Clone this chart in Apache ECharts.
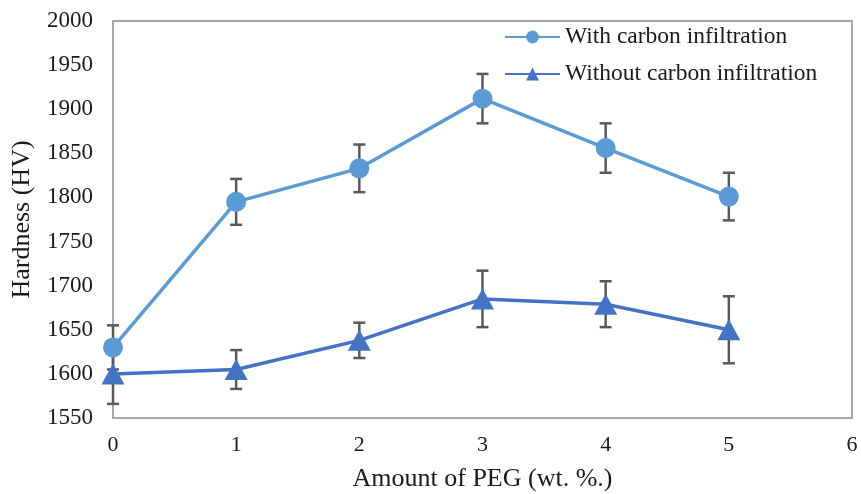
<!DOCTYPE html>
<html>
<head>
<meta charset="utf-8">
<script src="https://cdn.jsdelivr.net/npm/echarts@6/dist/echarts.min.js"></script>
<style>
html, body { margin: 0; padding: 0; background: #fff; }
#chart { width: 861px; height: 494px; }
</style>
</head>
<body>
<div id="chart"></div>
<script>
var pegAmount = [0, 1, 2, 3, 4, 5];
var withCarbon = [1630, 1795, 1833, 1912, 1856, 1801];
var withCarbonErr = [25, 26, 27, 28, 28, 27];
var withoutCarbon = [1600, 1605, 1638, 1685, 1679, 1650];
var withoutCarbonErr = [34, 22, 20, 32, 26, 38];

var serif = "'Liberation Serif', 'Times New Roman', serif";

function toPairs(vals) {
    var out = [];
    for (var i = 0; i < pegAmount.length; i++) out.push([pegAmount[i], vals[i]]);
    return out;
}
function toErr(vals, err) {
    var out = [];
    for (var i = 0; i < pegAmount.length; i++) out.push([pegAmount[i], vals[i] - err[i], vals[i] + err[i]]);
    return out;
}

function renderErr(params, api) {
    var x = api.value(0);
    var lo = api.coord([x, api.value(1)]);
    var hi = api.coord([x, api.value(2)]);
    var w = 6;
    var style = { stroke: '#595959', lineWidth: 2.5 };
    return {
        type: 'group',
        children: [
            { type: 'line', shape: { x1: hi[0], y1: hi[1], x2: lo[0], y2: lo[1] }, style: style },
            { type: 'line', shape: { x1: hi[0] - w, y1: hi[1], x2: hi[0] + w, y2: hi[1] }, style: style },
            { type: 'line', shape: { x1: lo[0] - w, y1: lo[1], x2: lo[0] + w, y2: lo[1] }, style: style }
        ]
    };
}

var chart = echarts.init(document.getElementById('chart'));
var option = {
    animation: false,
    textStyle: { fontFamily: serif },
    grid: {
        left: 113, right: 9, top: 21, bottom: 76,
        outerBoundsMode: 'none',
        containLabel: false,
        show: true, borderColor: '#a6a6a6', borderWidth: 2
    },
    legend: {
        orient: 'vertical',
        left: 499,
        top: 20,
        itemWidth: 55,
        itemHeight: 16,
        itemGap: 13,
        textStyle: { fontFamily: serif, fontSize: 23.5, color: '#1a1a1a' },
        data: ['With carbon infiltration', 'Without carbon infiltration']
    },
    xAxis: {
        type: 'value',
        min: 0, max: 6, interval: 1,
        name: 'Amount of PEG (wt. %.)',
        nameLocation: 'middle',
        nameGap: 48,
        nameTextStyle: { fontFamily: serif, fontSize: 26, color: '#1a1a1a' },
        axisLine: { show: true, lineStyle: { color: '#a6a6a6', width: 2 } },
        axisTick: { show: false },
        splitLine: { show: false },
        axisLabel: { fontFamily: serif, fontSize: 22, color: '#1a1a1a', margin: 16 }
    },
    yAxis: {
        type: 'value',
        min: 1550, max: 2000, interval: 50,
        name: 'Hardness (HV)',
        nameLocation: 'middle',
        nameGap: 78,
        nameTextStyle: { fontFamily: serif, fontSize: 26, color: '#1a1a1a' },
        axisLine: { show: true, lineStyle: { color: '#a6a6a6', width: 2 } },
        axisTick: { show: false },
        splitLine: { show: false },
        axisLabel: {
            fontFamily: serif, fontSize: 23, color: '#1a1a1a', margin: 20,
            formatter: function (v) { return String(v); }
        }
    },
    series: [
        {
            name: 'With carbon infiltration',
            type: 'line',
            data: toPairs(withCarbon),
            symbol: 'circle',
            symbolSize: 20,
            itemStyle: { color: '#5b9bd5' },
            lineStyle: { color: '#5b9bd5', width: 3.5 },
            z: 3
        },
        {
            name: 'Without carbon infiltration',
            type: 'line',
            data: toPairs(withoutCarbon),
            symbol: 'triangle',
            symbolSize: [23, 21],
            itemStyle: { color: '#4472c4' },
            lineStyle: { color: '#4472c4', width: 3.5 },
            z: 3
        },
        {
            type: 'custom',
            renderItem: renderErr,
            data: toErr(withCarbon, withCarbonErr),
            z: 2,
            silent: true
        },
        {
            type: 'custom',
            renderItem: renderErr,
            data: toErr(withoutCarbon, withoutCarbonErr),
            z: 2,
            silent: true
        }
    ]
};
chart.setOption(option);
window.onresize = chart.resize;
</script>
</body>
</html>
